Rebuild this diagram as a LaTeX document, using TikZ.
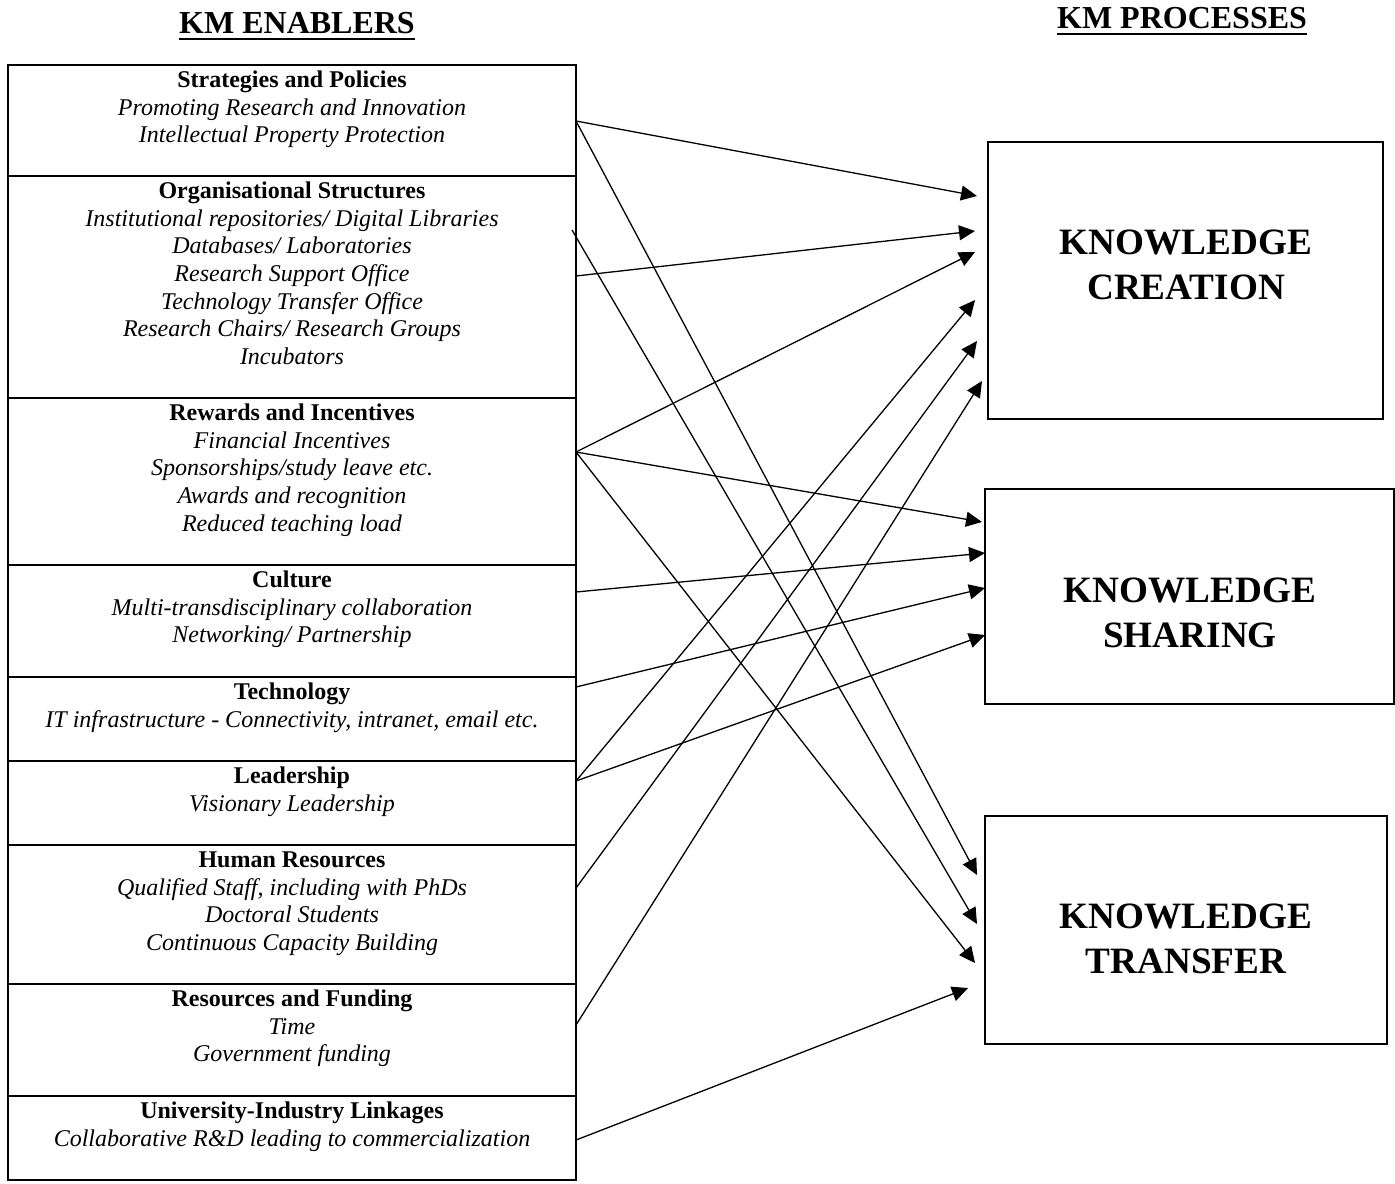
\documentclass[tikz,border=0pt]{standalone}
\usepackage{fontspec}
\setmainfont{Liberation Serif}
\usetikzlibrary{arrows.meta,calc}
\begin{document}
\begin{tikzpicture}[x=0.5pt,y=-0.5pt,
  enabler/.style={draw, line width=0.75pt, anchor=north west, minimum width=284pt, inner sep=0pt, outer sep=0pt},
  etext/.style={anchor=north, align=center, inner sep=0pt, font=\fontsize{12}{13.85}\selectfont},
  process/.style={draw, line width=0.75pt, anchor=north west, inner sep=0pt, outer sep=0pt},
  ptext/.style={align=center, inner sep=0pt, font=\fontsize{18.6}{22.5}\selectfont\bfseries},
  heading/.style={anchor=base, inner sep=0pt, font=\fontsize{16}{19}\selectfont\bfseries},
  link/.style={line width=0.65pt, -{Triangle[length=8pt,width=7.5pt]}}
]
\useasboundingbox (0,0) rectangle (1395,1183);

% headings
\node[heading] (t1) at (297,33) {KM ENABLERS};
\node[heading] (t2) at (1182,28) {KM PROCESSES};
\draw[line width=1pt] ($(t1.base west)+(0,6)$) -- ($(t1.base east)+(0,6)$);
\draw[line width=1pt] ($(t2.base west)+(0,6)$) -- ($(t2.base east)+(0,6)$);

% enabler boxes
\node[enabler, minimum height=55.5pt] (sp) at (8,65) {};
\node[enabler, minimum height=111pt] (os) at (8,176) {};
\node[enabler, minimum height=83.5pt] (ri) at (8,398) {};
\node[enabler, minimum height=56pt] (cu) at (8,565) {};
\node[enabler, minimum height=42pt] (te) at (8,677) {};
\node[enabler, minimum height=42pt] (le) at (8,761) {};
\node[enabler, minimum height=69.5pt] (hr) at (8,845) {};
\node[enabler, minimum height=56pt] (rf) at (8,984) {};
\node[enabler, minimum height=42pt] (ui) at (8,1096) {};

% enabler texts
\node[etext] (spt) at ($(sp.north)+(0,2.6)$) {\strut\textbf{Strategies and Policies}\\ \textit{Promoting Research and Innovation}\\ \textit{Intellectual Property Protection}};
\node[etext] (ost) at ($(os.north)+(0,2.6)$) {\strut\textbf{Organisational Structures}\\ \textit{Institutional repositories/ Digital Libraries}\\ \textit{Databases/ Laboratories}\\ \textit{Research Support Office}\\ \textit{Technology Transfer Office}\\ \textit{Research Chairs/ Research Groups}\\ \textit{Incubators}};
\node[etext] (rit) at ($(ri.north)+(0,2.6)$) {\strut\textbf{Rewards and Incentives}\\ \textit{Financial Incentives}\\ \textit{Sponsorships/study leave etc.}\\ \textit{Awards and recognition}\\ \textit{Reduced teaching load}};
\node[etext] (cut) at ($(cu.north)+(0,2.6)$) {\strut\textbf{Culture}\\ \textit{Multi-transdisciplinary collaboration}\\ \textit{Networking/ Partnership}};
\node[etext] (tet) at ($(te.north)+(0,2.6)$) {\strut\textbf{Technology}\\ \textit{IT infrastructure - Connectivity, intranet, email etc.}};
\node[etext] (let) at ($(le.north)+(0,2.6)$) {\strut\textbf{Leadership}\\ \textit{Visionary Leadership}};
\node[etext] (hrt) at ($(hr.north)+(0,2.6)$) {\strut\textbf{Human Resources}\\ \textit{Qualified Staff, including with PhDs}\\ \textit{Doctoral Students}\\ \textit{Continuous Capacity Building}};
\node[etext] (rft) at ($(rf.north)+(0,2.6)$) {\strut\textbf{Resources and Funding}\\ \textit{Time}\\ \textit{Government funding}};
\node[etext] (uit) at ($(ui.north)+(0,2.6)$) {\strut\textbf{University-Industry Linkages}\\ \textit{Collaborative R\&D leading to commercialization}};

% process boxes
\node[process, minimum width=197.5pt, minimum height=138.5pt] (kc) at (988,142) {};
\node[process, minimum width=204.5pt, minimum height=107.5pt] (ks) at (985,489) {};
\node[process, minimum width=201pt, minimum height=114pt] (kt) at (985,816) {};
\node[ptext] (kct) at (1186,265) {KNOWLEDGE\\CREATION};
\node[ptext] (kst) at (1190,613) {KNOWLEDGE\\SHARING};
\node[ptext] (ktt) at (1186,939) {KNOWLEDGE\\TRANSFER};

% arrow tips (free ends)
\coordinate (c1) at ($(kc.north west)+(-11,54)$);
\coordinate (c2) at ($(kc.north west)+(-13,89)$);
\coordinate (c3) at ($(kc.north west)+(-13,110)$);
\coordinate (c4) at ($(kc.north west)+(-13,158)$);
\coordinate (c5) at ($(kc.north west)+(-11,199)$);
\coordinate (c6) at ($(kc.north west)+(-6,239)$);
\coordinate (s1) at ($(ks.north west)+(-3,33)$);
\coordinate (s2) at ($(ks.north west)+(0,64)$);
\coordinate (s3) at ($(ks.north west)+(0,99)$);
\coordinate (s4) at ($(ks.north west)+(0,146)$);
\coordinate (r1) at ($(kt.north west)+(-8,59)$);
\coordinate (r2) at ($(kt.north west)+(-8,108)$);
\coordinate (r3) at ($(kt.north west)+(-10,147)$);
\coordinate (r4) at ($(kt.north west)+(-17,172)$);

% connectors
\draw[link] ($(sp.north east)+(0,56)$) -- (c1);
\draw[link] ($(sp.north east)+(0,56)$) -- (r1);
\draw[link] ($(os.north east)+(-4,54)$) -- (r2);
\draw[link] ($(os.north east)+(0,100)$) -- (c2);
\draw[link] ($(ri.north east)+(0,54)$) -- (c3);
\draw[link] ($(ri.north east)+(0,54)$) -- (s1);
\draw[link] ($(ri.north east)+(0,54)$) -- (r3);
\draw[link] ($(cu.north east)+(0,27)$) -- (s2);
\draw[link] ($(te.north east)+(0,10)$) -- (s3);
\draw[link] ($(le.north east)+(0,20)$) -- (c4);
\draw[link] ($(le.north east)+(0,20)$) -- (s4);
\draw[link] ($(hr.north east)+(0,43)$) -- (c5);
\draw[link] ($(rf.north east)+(0,41)$) -- (c6);
\draw[link] ($(ui.north east)+(0,44)$) -- (r4);
\end{tikzpicture}
\end{document}
